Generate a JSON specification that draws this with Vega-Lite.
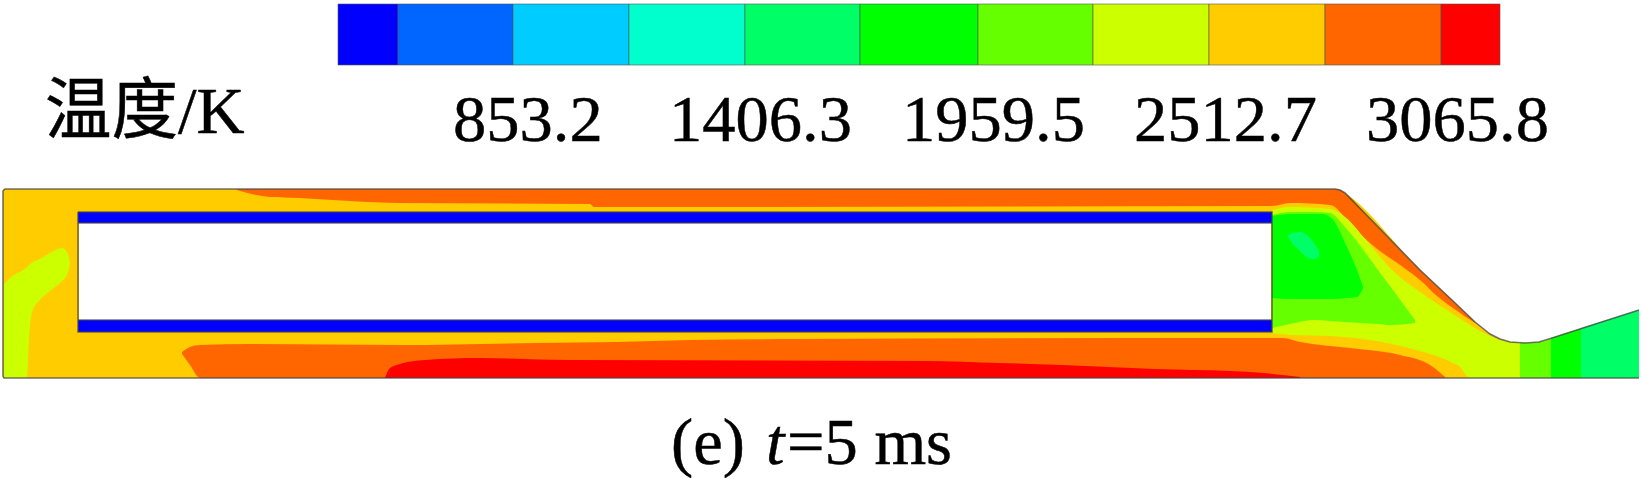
{
  "$schema": "https://vega.github.io/schema/vega-lite/v6.json",
  "width": 1642,
  "height": 478,
  "padding": 0,
  "autosize": {"type": "none"},
  "background": "white",
  "config": {"view": {"stroke": null}},
  "datasets": {
    "colorbar": [
      {"level": 0, "x": 338, "x2": 398, "y": 4, "y2": 65},
      {"level": 1, "x": 398, "x2": 513, "y": 4, "y2": 65},
      {"level": 2, "x": 513, "x2": 629, "y": 4, "y2": 65},
      {"level": 3, "x": 629, "x2": 745, "y": 4, "y2": 65},
      {"level": 4, "x": 745, "x2": 860, "y": 4, "y2": 65},
      {"level": 5, "x": 860, "x2": 978, "y": 4, "y2": 65},
      {"level": 6, "x": 978, "x2": 1093, "y": 4, "y2": 65},
      {"level": 7, "x": 1093, "x2": 1209, "y": 4, "y2": 65},
      {"level": 8, "x": 1209, "x2": 1325, "y": 4, "y2": 65},
      {"level": 9, "x": 1325, "x2": 1441, "y": 4, "y2": 65},
      {"level": 10, "x": 1441, "x2": 1500, "y": 4, "y2": 65}
    ],
    "contours": [
      {"part": "a_base", "level": 8, "x": 3, "y": 189, "y2": 378},
      {"part": "a_base", "level": 8, "x": 1335, "y": 189, "y2": 378},
      {"part": "a_base", "level": 8, "x": 1340, "y": 190, "y2": 378},
      {"part": "a_base", "level": 8, "x": 1345, "y": 193, "y2": 378},
      {"part": "a_base", "level": 8, "x": 1420, "y": 270, "y2": 378},
      {"part": "a_base", "level": 8, "x": 1453, "y": 301, "y2": 378},
      {"part": "a_base", "level": 8, "x": 1475, "y": 322, "y2": 378},
      {"part": "a_base", "level": 8, "x": 1490, "y": 334, "y2": 378},
      {"part": "a_base", "level": 8, "x": 1500, "y": 339, "y2": 378},
      {"part": "a_base", "level": 8, "x": 1510, "y": 342, "y2": 378},
      {"part": "a_base", "level": 8, "x": 1525, "y": 343, "y2": 378},

      {"part": "b_top", "level": 9, "x": 237, "y": 189, "y2": 190},
      {"part": "b_top", "level": 9, "x": 270, "y": 189, "y2": 197},
      {"part": "b_top", "level": 9, "x": 300, "y": 189, "y2": 198},
      {"part": "b_top", "level": 9, "x": 350, "y": 189, "y2": 201},
      {"part": "b_top", "level": 9, "x": 400, "y": 189, "y2": 203},
      {"part": "b_top", "level": 9, "x": 590, "y": 189, "y2": 204},
      {"part": "b_top", "level": 9, "x": 594, "y": 189, "y2": 207},
      {"part": "b_top", "level": 9, "x": 1272, "y": 189, "y2": 206},
      {"part": "b_top", "level": 9, "x": 1290, "y": 189, "y2": 203},
      {"part": "b_top", "level": 9, "x": 1330, "y": 189, "y2": 205},
      {"part": "b_top", "level": 9, "x": 1335, "y": 189, "y2": 207},
      {"part": "b_top", "level": 9, "x": 1340, "y": 190, "y2": 212},
      {"part": "b_top", "level": 9, "x": 1347, "y": 195, "y2": 220},
      {"part": "b_top", "level": 9, "x": 1370, "y": 219, "y2": 243},
      {"part": "b_top", "level": 9, "x": 1407, "y": 257, "y2": 270},
      {"part": "b_top", "level": 9, "x": 1420, "y": 270, "y2": 280},
      {"part": "b_top", "level": 9, "x": 1437, "y": 286, "y2": 296},
      {"part": "b_top", "level": 9, "x": 1453, "y": 301, "y2": 308},
      {"part": "b_top", "level": 9, "x": 1475, "y": 322, "y2": 323},

      {"part": "c_low", "level": 9, "x": 182, "y": 352, "y2": 354},
      {"part": "c_low", "level": 9, "x": 190, "y": 347, "y2": 365},
      {"part": "c_low", "level": 9, "x": 200, "y": 345, "y2": 378},
      {"part": "c_low", "level": 9, "x": 250, "y": 344, "y2": 378},
      {"part": "c_low", "level": 9, "x": 400, "y": 345, "y2": 378},
      {"part": "c_low", "level": 9, "x": 537, "y": 343, "y2": 378},
      {"part": "c_low", "level": 9, "x": 617, "y": 342, "y2": 378},
      {"part": "c_low", "level": 9, "x": 690, "y": 340, "y2": 378},
      {"part": "c_low", "level": 9, "x": 800, "y": 339, "y2": 378},
      {"part": "c_low", "level": 9, "x": 1250, "y": 338, "y2": 378},
      {"part": "c_low", "level": 9, "x": 1283, "y": 338, "y2": 378},
      {"part": "c_low", "level": 9, "x": 1300, "y": 342, "y2": 378},
      {"part": "c_low", "level": 9, "x": 1350, "y": 348, "y2": 378},
      {"part": "c_low", "level": 9, "x": 1400, "y": 355, "y2": 378},
      {"part": "c_low", "level": 9, "x": 1430, "y": 365, "y2": 378},
      {"part": "c_low", "level": 9, "x": 1445, "y": 377, "y2": 378},

      {"part": "d_red", "level": 10, "x": 385, "y": 378, "y2": 378},
      {"part": "d_red", "level": 10, "x": 390, "y": 368, "y2": 378},
      {"part": "d_red", "level": 10, "x": 400, "y": 364, "y2": 378},
      {"part": "d_red", "level": 10, "x": 425, "y": 360, "y2": 378},
      {"part": "d_red", "level": 10, "x": 480, "y": 358, "y2": 378},
      {"part": "d_red", "level": 10, "x": 570, "y": 360, "y2": 378},
      {"part": "d_red", "level": 10, "x": 925, "y": 361, "y2": 378},
      {"part": "d_red", "level": 10, "x": 1000, "y": 363, "y2": 378},
      {"part": "d_red", "level": 10, "x": 1062, "y": 365, "y2": 378},
      {"part": "d_red", "level": 10, "x": 1155, "y": 369, "y2": 378},
      {"part": "d_red", "level": 10, "x": 1230, "y": 371, "y2": 378},
      {"part": "d_red", "level": 10, "x": 1250, "y": 372, "y2": 378},
      {"part": "d_red", "level": 10, "x": 1300, "y": 377, "y2": 378},

      {"part": "e_left", "level": 7, "x": 4, "y": 284, "y2": 378},
      {"part": "e_left", "level": 7, "x": 10, "y": 278, "y2": 378},
      {"part": "e_left", "level": 7, "x": 27, "y": 267, "y2": 378},
      {"part": "e_left", "level": 7, "x": 28, "y": 266, "y2": 360},
      {"part": "e_left", "level": 7, "x": 30, "y": 264, "y2": 325},
      {"part": "e_left", "level": 7, "x": 33, "y": 262, "y2": 310},
      {"part": "e_left", "level": 7, "x": 40, "y": 259, "y2": 300},
      {"part": "e_left", "level": 7, "x": 50, "y": 253, "y2": 291},
      {"part": "e_left", "level": 7, "x": 62, "y": 248, "y2": 281},
      {"part": "e_left", "level": 7, "x": 67, "y": 252, "y2": 275},
      {"part": "e_left", "level": 7, "x": 70, "y": 263, "y2": 264},

      {"part": "f_noz7", "level": 7, "x": 1272, "y": 210, "y2": 333},
      {"part": "f_noz7", "level": 7, "x": 1290, "y": 207, "y2": 335},
      {"part": "f_noz7", "level": 7, "x": 1330, "y": 209, "y2": 336},
      {"part": "f_noz7", "level": 7, "x": 1345, "y": 217, "y2": 337},
      {"part": "f_noz7", "level": 7, "x": 1370, "y": 245, "y2": 340},
      {"part": "f_noz7", "level": 7, "x": 1392, "y": 270, "y2": 344},
      {"part": "f_noz7", "level": 7, "x": 1420, "y": 292, "y2": 351},
      {"part": "f_noz7", "level": 7, "x": 1442, "y": 307, "y2": 358},
      {"part": "f_noz7", "level": 7, "x": 1453, "y": 314, "y2": 363},
      {"part": "f_noz7", "level": 7, "x": 1459, "y": 318, "y2": 366},
      {"part": "f_noz7", "level": 7, "x": 1470, "y": 325, "y2": 378},
      {"part": "f_noz7", "level": 7, "x": 1490, "y": 336, "y2": 378},
      {"part": "f_noz7", "level": 7, "x": 1500, "y": 340, "y2": 378},
      {"part": "f_noz7", "level": 7, "x": 1510, "y": 342, "y2": 378},
      {"part": "f_noz7", "level": 7, "x": 1525, "y": 343, "y2": 378},

      {"part": "g_noz6", "level": 6, "x": 1272, "y": 215, "y2": 328},
      {"part": "g_noz6", "level": 6, "x": 1290, "y": 212, "y2": 324},
      {"part": "g_noz6", "level": 6, "x": 1313, "y": 212, "y2": 320},
      {"part": "g_noz6", "level": 6, "x": 1330, "y": 213, "y2": 321},
      {"part": "g_noz6", "level": 6, "x": 1345, "y": 227, "y2": 322},
      {"part": "g_noz6", "level": 6, "x": 1378, "y": 270, "y2": 324},
      {"part": "g_noz6", "level": 6, "x": 1390, "y": 286, "y2": 325},
      {"part": "g_noz6", "level": 6, "x": 1415, "y": 320, "y2": 323},

      {"part": "h_noz5", "level": 5, "x": 1272, "y": 216, "y2": 298},
      {"part": "h_noz5", "level": 5, "x": 1290, "y": 214, "y2": 299},
      {"part": "h_noz5", "level": 5, "x": 1323, "y": 214, "y2": 299},
      {"part": "h_noz5", "level": 5, "x": 1333, "y": 220, "y2": 299},
      {"part": "h_noz5", "level": 5, "x": 1347, "y": 247, "y2": 298},
      {"part": "h_noz5", "level": 5, "x": 1357, "y": 270, "y2": 297},
      {"part": "h_noz5", "level": 5, "x": 1360, "y": 278, "y2": 294},
      {"part": "h_noz5", "level": 5, "x": 1363, "y": 287, "y2": 288},

      {"part": "i_spot", "level": 4, "x": 1288, "y": 236, "y2": 237},
      {"part": "i_spot", "level": 4, "x": 1292, "y": 233, "y2": 243},
      {"part": "i_spot", "level": 4, "x": 1300, "y": 232, "y2": 251},
      {"part": "i_spot", "level": 4, "x": 1308, "y": 236, "y2": 258},
      {"part": "i_spot", "level": 4, "x": 1314, "y": 243, "y2": 259},
      {"part": "i_spot", "level": 4, "x": 1319, "y": 251, "y2": 257},

      {"part": "j_exit6", "level": 6, "x": 1520, "y": 343, "y2": 378},
      {"part": "j_exit6", "level": 6, "x": 1539, "y": 342, "y2": 378},
      {"part": "j_exit6", "level": 6, "x": 1552, "y": 338, "y2": 378},

      {"part": "k_exit5", "level": 5, "x": 1551, "y": 338, "y2": 378},
      {"part": "k_exit5", "level": 5, "x": 1582, "y": 328, "y2": 378},

      {"part": "l_exit4", "level": 4, "x": 1581, "y": 328, "y2": 378},
      {"part": "l_exit4", "level": 4, "x": 1639, "y": 310, "y2": 378},

      {"part": "m_wall_top", "level": 0, "x": 78, "y": 212, "y2": 223},
      {"part": "m_wall_top", "level": 0, "x": 1272, "y": 212, "y2": 223},
      {"part": "n_wall_low", "level": 0, "x": 78, "y": 320, "y2": 332},
      {"part": "n_wall_low", "level": 0, "x": 1272, "y": 320, "y2": 332}
    ],
    "piston": [
      {"x": 79, "y": 223, "y2": 320},
      {"x": 1271, "y": 223, "y2": 320}
    ],
    "outline": [
      {"part": "outer", "seq": 1, "x": 1639, "y": 378},
      {"part": "outer", "seq": 2, "x": 4, "y": 378},
      {"part": "outer", "seq": 3, "x": 3, "y": 376},
      {"part": "outer", "seq": 4, "x": 3, "y": 191},
      {"part": "outer", "seq": 5, "x": 5, "y": 189},
      {"part": "outer", "seq": 6, "x": 1335, "y": 189},
      {"part": "outer", "seq": 7, "x": 1340, "y": 190},
      {"part": "outer", "seq": 8, "x": 1345, "y": 193},
      {"part": "outer", "seq": 9, "x": 1420, "y": 270},
      {"part": "outer", "seq": 10, "x": 1453, "y": 301},
      {"part": "outer", "seq": 11, "x": 1475, "y": 322},
      {"part": "outer", "seq": 12, "x": 1490, "y": 334},
      {"part": "outer", "seq": 13, "x": 1500, "y": 339},
      {"part": "outer", "seq": 14, "x": 1510, "y": 342},
      {"part": "outer", "seq": 15, "x": 1525, "y": 343},
      {"part": "outer", "seq": 16, "x": 1539, "y": 342},
      {"part": "outer", "seq": 17, "x": 1552, "y": 338},
      {"part": "outer", "seq": 18, "x": 1639, "y": 310},
      {"part": "inner", "seq": 1, "x": 78, "y": 212},
      {"part": "inner", "seq": 2, "x": 1272, "y": 212},
      {"part": "inner", "seq": 3, "x": 1272, "y": 332},
      {"part": "inner", "seq": 4, "x": 78, "y": 332},
      {"part": "inner", "seq": 5, "x": 78, "y": 212},
      {"part": "inner_top", "seq": 1, "x": 78, "y": 223},
      {"part": "inner_top", "seq": 2, "x": 1272, "y": 223},
      {"part": "inner_low", "seq": 1, "x": 78, "y": 320},
      {"part": "inner_low", "seq": 2, "x": 1272, "y": 320}
    ],
    "ticks": [
      {"label": "853.2", "x": 453, "y": 141},
      {"label": "1406.3", "x": 669, "y": 141},
      {"label": "1959.5", "x": 902, "y": 141},
      {"label": "2512.7", "x": 1134, "y": 141},
      {"label": "3065.8", "x": 1366, "y": 141},
      {"label": "温度/K", "x": 45, "y": 133},
      {"label": "(e) ", "x": 671, "y": 464},
      {"label": "=5 ms", "x": 787, "y": 464}
    ],
    "italic": [
      {"label": "t", "x": 766, "y": 464}
    ]
  },
  "layer": [
    {
      "data": {"name": "colorbar"},
      "mark": {"type": "rect", "stroke": "#555555", "strokeWidth": 1, "strokeOpacity": 0.6},
      "encoding": {
        "x": {"field": "x", "type": "quantitative", "scale": {"domain": [0, 1642], "nice": false, "zero": false}, "axis": null},
        "x2": {"field": "x2"},
        "y": {"field": "y", "type": "quantitative", "scale": {"domain": [478, 0], "nice": false, "zero": false}, "axis": null},
        "y2": {"field": "y2"},
        "color": {
          "field": "level",
          "type": "ordinal",
          "legend": null,
          "scale": {
            "domain": [0, 1, 2, 3, 4, 5, 6, 7, 8, 9, 10],
            "range": ["#0000ff", "#0066ff", "#00ccff", "#00ffcc", "#00ff66", "#00ff00", "#66ff00", "#ccff00", "#ffcc00", "#ff6600", "#ff0000"]
          }
        }
      }
    },
    {
      "data": {"name": "contours"},
      "mark": {"type": "area", "orient": "vertical", "interpolate": "monotone"},
      "encoding": {
        "x": {"field": "x", "type": "quantitative"},
        "y": {"field": "y", "type": "quantitative"},
        "y2": {"field": "y2"},
        "detail": {"field": "part"},
        "color": {"field": "level", "type": "ordinal"}
      }
    },
    {
      "data": {"name": "piston"},
      "mark": {"type": "area", "orient": "vertical", "color": "white"},
      "encoding": {
        "x": {"field": "x", "type": "quantitative"},
        "y": {"field": "y", "type": "quantitative"},
        "y2": {"field": "y2"}
      }
    },
    {
      "data": {"name": "outline"},
      "mark": {"type": "line", "color": "#444444", "strokeWidth": 1.6, "opacity": 0.75},
      "encoding": {
        "x": {"field": "x", "type": "quantitative"},
        "y": {"field": "y", "type": "quantitative"},
        "detail": {"field": "part"},
        "order": {"field": "seq", "type": "quantitative"}
      }
    },
    {
      "data": {"name": "ticks"},
      "mark": {"type": "text", "font": "Liberation Serif, Noto Sans CJK SC", "fontSize": 66.5, "align": "left", "baseline": "alphabetic", "color": "black", "stroke": "black", "strokeWidth": 0.5},
      "encoding": {
        "x": {"field": "x", "type": "quantitative"},
        "y": {"field": "y", "type": "quantitative"},
        "text": {"field": "label"}
      }
    },
    {
      "data": {"name": "italic"},
      "mark": {"type": "text", "font": "Liberation Serif", "fontStyle": "italic", "fontSize": 66.5, "align": "left", "baseline": "alphabetic", "color": "black", "stroke": "black", "strokeWidth": 0.5},
      "encoding": {
        "x": {"field": "x", "type": "quantitative"},
        "y": {"field": "y", "type": "quantitative"},
        "text": {"field": "label"}
      }
    }
  ]
}
